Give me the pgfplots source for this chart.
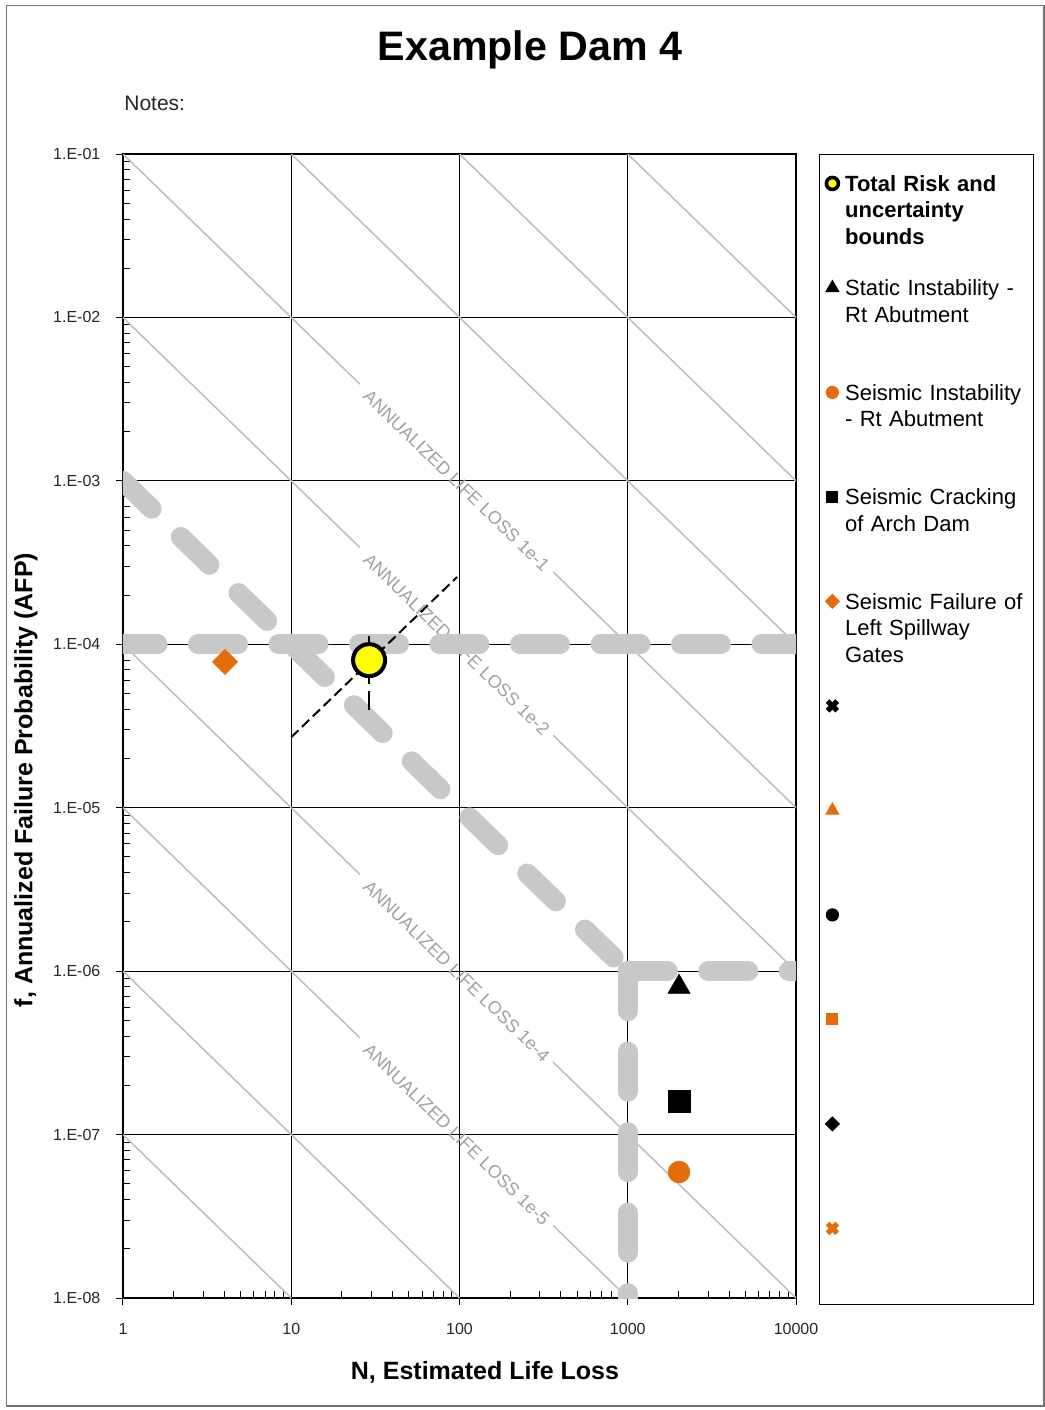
\documentclass[border=0pt]{standalone}
\usepackage{fontspec}
\setmainfont{Liberation Sans}
\usepackage{pgfplots}
\pgfplotsset{compat=1.18}
\definecolor{orng}{RGB}{228,108,10}
\definecolor{dashgray}{RGB}{200,200,200}
\definecolor{thingray}{RGB}{192,192,192}
\definecolor{lblgray}{RGB}{160,160,160}
\definecolor{ylw}{RGB}{255,255,0}
\newcommand\tl[1]{\textnormal{#1}}
\begin{document}
\begin{tikzpicture}
\path[use as bounding box] (-61.5pt,-56pt) rectangle (461pt,649pt);
\draw[black!55, line width=0.8pt] (-58.2pt,-54pt) rectangle (460.5pt,646.2pt);
\begin{axis}[
  xmode=log, ymode=log,
  scale only axis, width=336.5pt, height=572pt,
  xmin=1, xmax=10000, ymin=1e-8, ymax=1e-1,
  axis line style={black, line width=0.6pt},
  grid=major, major grid style={black, line width=0.5pt},
  xtick={1,10,100,1000,10000},
  xticklabels={\tl{1},\tl{10},\tl{100},\tl{1000},\tl{10000}},
  ytick={1e-8,1e-7,1e-6,1e-5,1e-4,1e-3,1e-2,1e-1},
  yticklabels={\tl{1.E-08},\tl{1.E-07},\tl{1.E-06},\tl{1.E-05},\tl{1.E-04},\tl{1.E-03},\tl{1.E-02},\tl{1.E-01}},
  minor xtick={2,3,4,5,6,7,8,9,20,30,40,50,60,70,80,90,200,300,400,500,600,700,800,900,2000,3000,4000,5000,6000,7000,8000,9000},
  minor ytick={2e-8,3e-8,4e-8,5e-8,6e-8,7e-8,8e-8,9e-8,2e-7,3e-7,4e-7,5e-7,6e-7,7e-7,8e-7,9e-7,2e-6,3e-6,4e-6,5e-6,6e-6,7e-6,8e-6,9e-6,2e-5,3e-5,4e-5,5e-5,6e-5,7e-5,8e-5,9e-5,2e-4,3e-4,4e-4,5e-4,6e-4,7e-4,8e-4,9e-4,2e-3,3e-3,4e-3,5e-3,6e-3,7e-3,8e-3,9e-3,2e-2,3e-2,4e-2,5e-2,6e-2,7e-2,8e-2,9e-2},
  xtick pos=bottom, ytick pos=left,
  tick align=inside,
  major tick length=7pt,
  minor tick length=3.5pt,
  major x tick style={yshift=-3.5pt},
  major y tick style={xshift=-3.5pt},
  tick style={black, line width=0.5pt},
  ticklabel style={font=\fontsize{8}{9}\selectfont, text=black!85},
  yticklabel style={anchor=east, xshift=-7.8pt},
  xticklabel style={anchor=north, yshift=-9.2pt},
  legend style={at={(1,1)}, anchor=north west, xshift=11.5pt, draw=black, line width=0.6pt,
    inner xsep=3pt, inner ysep=0pt, row sep=0pt, column sep=3pt,
    font=\fontsize{11}{13.25}\selectfont,
    nodes={text width=91pt, align=left, text height=18.4pt, text depth=33.85pt, inner sep=0pt},
    cells={anchor=base west}},
  legend image code/.code={\draw[#1] plot coordinates {(0pt,4pt)};},
]
% iso-risk lines N*f = const
\addplot[thingray, line width=0.8pt, forget plot] coordinates {(1,1e-7) (10,1e-8)};
\addplot[thingray, line width=0.8pt, forget plot] coordinates {(1,1e-6) (100,1e-8)};
\addplot[thingray, line width=0.8pt, forget plot] coordinates {(1,1e-5) (25.6,3.906e-7)};
\addplot[thingray, line width=0.8pt, forget plot] coordinates {(360,2.778e-8) (1000,1e-8)};
\addplot[thingray, line width=0.8pt, forget plot] coordinates {(1,1e-4) (25.6,3.906e-6)};
\addplot[thingray, line width=0.8pt, forget plot] coordinates {(360,2.778e-7) (10000,1e-8)};
\addplot[thingray, line width=0.8pt, forget plot] coordinates {(1,1e-2) (25.6,3.906e-4)};
\addplot[thingray, line width=0.8pt, forget plot] coordinates {(360,2.778e-5) (10000,1e-6)};
\addplot[thingray, line width=0.8pt, forget plot] coordinates {(1,1e-1) (25.6,3.906e-3)};
\addplot[thingray, line width=0.8pt, forget plot] coordinates {(360,2.778e-4) (10000,1e-5)};
\addplot[thingray, line width=0.8pt, forget plot] coordinates {(10,1e-1) (10000,1e-4)};
\addplot[thingray, line width=0.8pt, forget plot] coordinates {(100,1e-1) (10000,1e-3)};
\addplot[thingray, line width=0.8pt, forget plot] coordinates {(1000,1e-1) (10000,1e-2)};
\node[rotate=-44.17, text=lblgray, font=\fontsize{9}{9}\selectfont, inner sep=0pt] at (axis cs:96,1.0e-3) {ANNUALIZED LIFE LOSS 1e-1};
\node[rotate=-44.17, text=lblgray, font=\fontsize{9}{9}\selectfont, inner sep=0pt] at (axis cs:96,1.0e-4) {ANNUALIZED LIFE LOSS 1e-2};
\node[rotate=-44.17, text=lblgray, font=\fontsize{9}{9}\selectfont, inner sep=0pt] at (axis cs:96,1.0e-6) {ANNUALIZED LIFE LOSS 1e-4};
\node[rotate=-44.17, text=lblgray, font=\fontsize{9}{9}\selectfont, inner sep=0pt] at (axis cs:96,1.0e-7) {ANNUALIZED LIFE LOSS 1e-5};
% guideline limits
\addplot[dashgray, line width=10pt, line cap=round, dash pattern=on 20pt off 20.25pt, dash phase=2.75pt, forget plot] coordinates {(1,1e-4) (10000,1e-4)};
\addplot[dashgray, line width=10pt, line cap=round, dash pattern=on 20pt off 20.25pt, forget plot] coordinates {(1,1e-3) (1000,1e-6)};
\addplot[dashgray, line width=10pt, line cap=round, dash pattern=on 20pt off 20.25pt, forget plot] coordinates {(1000,1e-6) (10000,1e-6)};
\addplot[dashgray, line width=10pt, line cap=round, dash pattern=on 20pt off 20.25pt, forget plot] coordinates {(1000,1e-6) (1000,1e-8)};
% uncertainty bounds
\addplot[black, line width=1pt, dash pattern=on 5pt off 2.5pt, forget plot] coordinates {(10,2.7e-5) (96.7,2.58e-4)};
\addplot[black, line width=1pt, dash pattern=on 24pt off 3.5pt, forget plot] coordinates {(29,1.12e-4) (29,3.96e-5)};
% failure modes
\addplot[only marks, mark=square*, mark size=4.4pt, mark options={rotate=45, fill=orng, draw=orng}, forget plot] coordinates {(4.04,7.8e-5)};
\addplot[only marks, mark=triangle*, mark size=6.3pt, mark options={fill=black, draw=black}, forget plot] coordinates {(2017,8.0e-7)};
\addplot[only marks, mark=square*, mark size=5.5pt, mark options={fill=black, draw=black}, forget plot] coordinates {(2017,1.6e-7)};
\addplot[only marks, mark=*, mark size=5.4pt, mark options={fill=orng, draw=orng}, forget plot] coordinates {(2017,5.9e-8)};
\addplot[only marks, mark=*, mark size=8pt, mark options={fill=ylw, draw=black, line width=2pt}, forget plot] coordinates {(29,8.0e-5)};
% legend
\addlegendimage{mark=*, mark size=3pt, mark options={fill=ylw, draw=black, line width=1.8pt}}
\addlegendentry{\textbf{Total Risk and\\uncertainty\\bounds}}
\addlegendimage{mark=triangle*, mark size=3.6pt, mark options={fill=black, draw=black}}
\addlegendentry{Static Instability -\\Rt Abutment}
\addlegendimage{mark=*, mark size=3pt, mark options={fill=orng, draw=orng}}
\addlegendentry{Seismic Instability\\- Rt Abutment}
\addlegendimage{mark=square*, mark size=2.7pt, mark options={fill=black, draw=black}}
\addlegendentry{Seismic Cracking\\of Arch Dam}
\addlegendimage{mark=square*, mark size=2.4pt, mark options={rotate=45, fill=orng, draw=orng}}
\addlegendentry{Seismic Failure of\\Left Spillway\\Gates}
\addlegendimage{mark=x, mark size=3.4pt, mark options={draw=black, line width=2.6pt}}
\addlegendentry{}
\addlegendimage{mark=triangle*, mark size=3.6pt, mark options={fill=orng, draw=orng}}
\addlegendentry{}
\addlegendimage{mark=*, mark size=3pt, mark options={fill=black, draw=black}}
\addlegendentry{}
\addlegendimage{mark=square*, mark size=2.7pt, mark options={fill=orng, draw=orng}}
\addlegendentry{}
\addlegendimage{mark=square*, mark size=2.4pt, mark options={rotate=45, fill=black, draw=black}}
\addlegendentry{}
\addlegendimage{mark=x, mark size=3.4pt, mark options={draw=orng, line width=2.6pt}}
\addlegendentry{}
\end{axis}
\node[font=\bfseries\fontsize{20.6}{24}\selectfont, anchor=base] at (203.5pt,618.5pt) {Example Dam 4};
\node[font=\fontsize{10.5}{12}\selectfont, anchor=base west, inner sep=0pt, text=black!85] at (0.5pt,593.5pt) {Notes:};
\node[font=\bfseries\fontsize{12.5}{15}\selectfont, anchor=base] at (181pt,-40.5pt) {N, Estimated Life Loss};
\node[font=\bfseries\fontsize{12.5}{15}\selectfont, rotate=90, anchor=center] at (-48.5pt,259pt) {f, Annualized Failure Probability (AFP)};
\end{tikzpicture}
\end{document}
